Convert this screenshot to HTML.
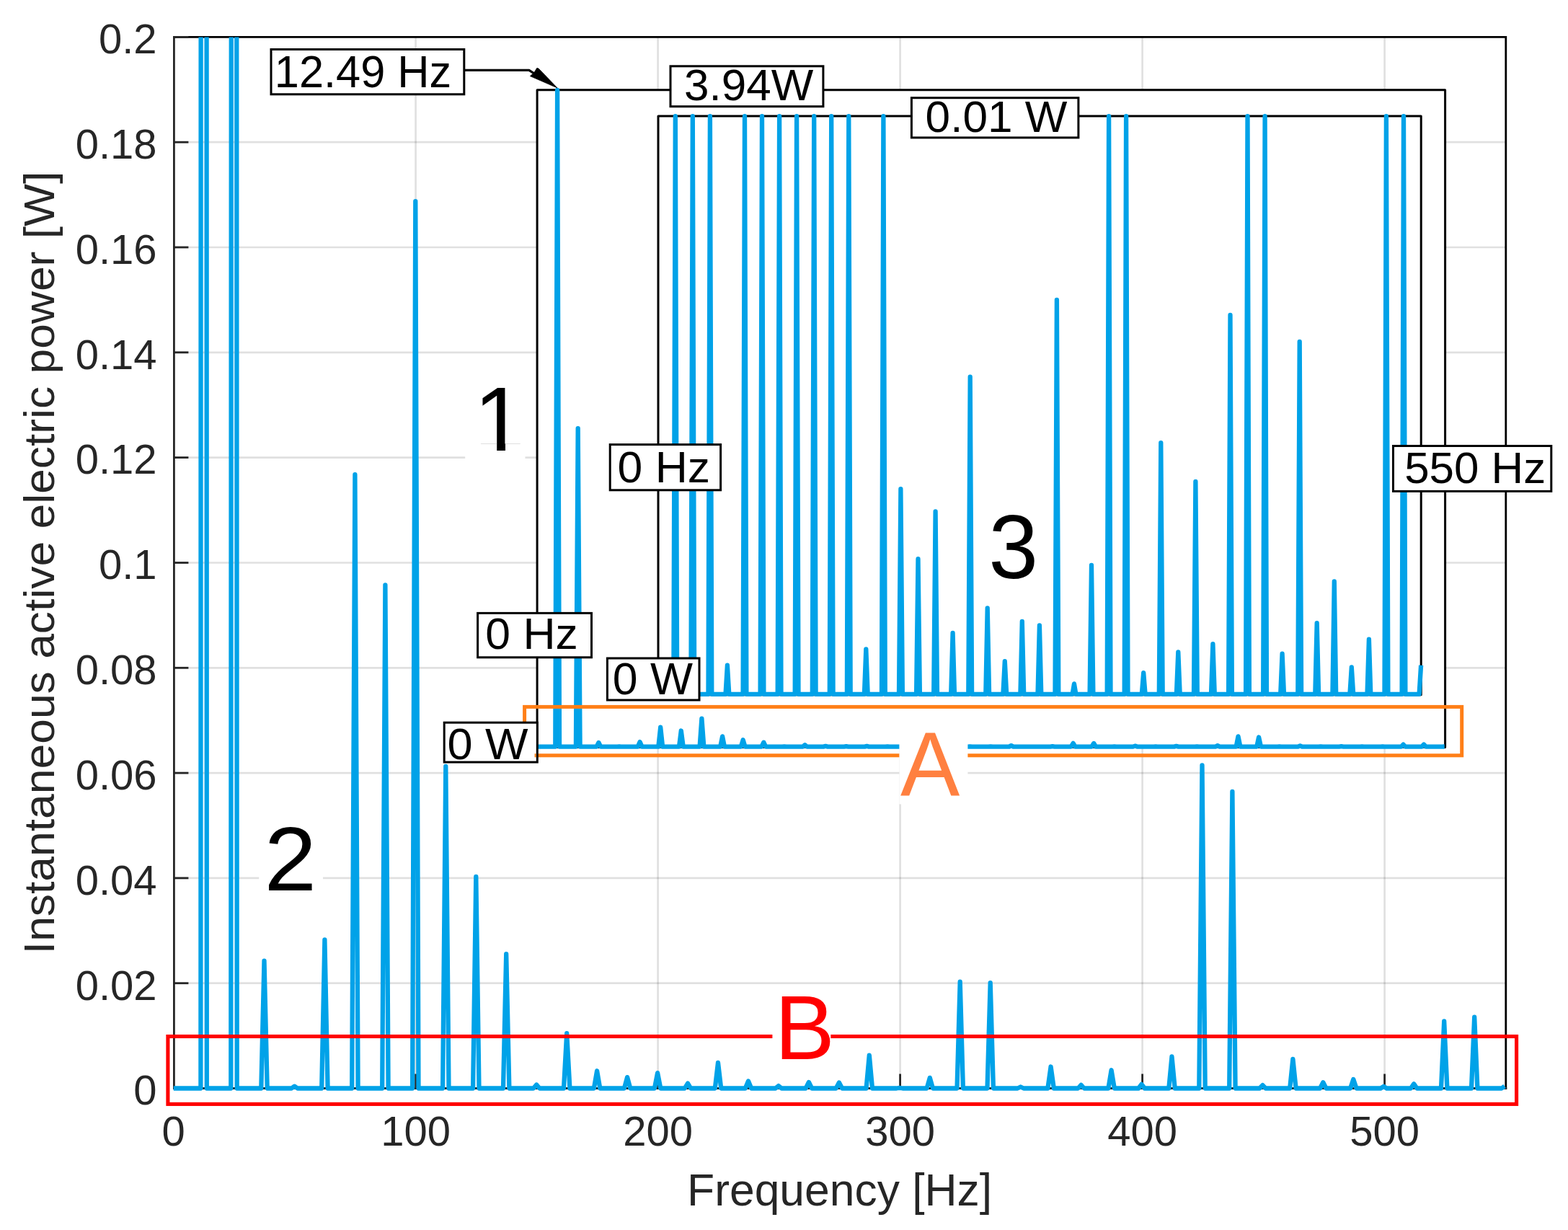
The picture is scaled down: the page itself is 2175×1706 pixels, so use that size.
<!DOCTYPE html>
<html lang="en"><head><meta charset="utf-8"><title>Instantaneous active electric power spectrum</title>
<style>html,body{margin:0;padding:0;background:#fff}body{width:2175px;height:1706px;overflow:hidden}svg{display:block}text{font-family:"Liberation Sans", sans-serif}</style>
</head><body>
<svg width="2175" height="1706" viewBox="0 0 2175 1706">
<rect x="0" y="0" width="2175" height="1706" fill="#fff"/>
<g stroke="#000" stroke-opacity="0.12" stroke-width="2.7" fill="none">
<line x1="576.6" y1="51.4" x2="576.6" y2="1509.5"/>
<line x1="912.6" y1="51.4" x2="912.6" y2="1509.5"/>
<line x1="1248.6" y1="51.4" x2="1248.6" y2="1509.5"/>
<line x1="1584.6" y1="51.4" x2="1584.6" y2="1509.5"/>
<line x1="1920.6" y1="51.4" x2="1920.6" y2="1509.5"/>
<line x1="241.4" y1="1363.7" x2="2088.8" y2="1363.7"/>
<line x1="241.4" y1="1217.9" x2="2088.8" y2="1217.9"/>
<line x1="241.4" y1="1072.1" x2="2088.8" y2="1072.1"/>
<line x1="241.4" y1="926.3" x2="2088.8" y2="926.3"/>
<line x1="241.4" y1="780.5" x2="2088.8" y2="780.5"/>
<line x1="241.4" y1="634.6" x2="2088.8" y2="634.6"/>
<line x1="241.4" y1="488.8" x2="2088.8" y2="488.8"/>
<line x1="241.4" y1="343.0" x2="2088.8" y2="343.0"/>
<line x1="241.4" y1="197.2" x2="2088.8" y2="197.2"/>
</g>
<path d="M241.4 51.4H2088.8V1509.5" fill="none" stroke="#000" stroke-width="2.8" stroke-linecap="square"/>
<g stroke="#262626" stroke-width="2.8" fill="none">
<path d="M241.4 51.4V1509.5H2088.8" stroke-linecap="square"/>
<line x1="576.6" y1="1509.5" x2="576.6" y2="1489.5"/>
<line x1="912.6" y1="1509.5" x2="912.6" y2="1489.5"/>
<line x1="1248.6" y1="1509.5" x2="1248.6" y2="1489.5"/>
<line x1="1584.6" y1="1509.5" x2="1584.6" y2="1489.5"/>
<line x1="1920.6" y1="1509.5" x2="1920.6" y2="1489.5"/>
<line x1="241.4" y1="1363.7" x2="261.4" y2="1363.7"/>
<line x1="241.4" y1="1217.9" x2="261.4" y2="1217.9"/>
<line x1="241.4" y1="1072.1" x2="261.4" y2="1072.1"/>
<line x1="241.4" y1="926.3" x2="261.4" y2="926.3"/>
<line x1="241.4" y1="780.5" x2="261.4" y2="780.5"/>
<line x1="241.4" y1="634.6" x2="261.4" y2="634.6"/>
<line x1="241.4" y1="488.8" x2="261.4" y2="488.8"/>
<line x1="241.4" y1="343.0" x2="261.4" y2="343.0"/>
<line x1="241.4" y1="197.2" x2="261.4" y2="197.2"/>
<line x1="241.4" y1="51.4" x2="261.4" y2="51.4"/>
</g>
<g fill="#262626" font-size="58">
<text x="217.6" y="1532.3" text-anchor="end">0</text>
<text x="217.6" y="1386.5" text-anchor="end">0.02</text>
<text x="217.6" y="1240.7" text-anchor="end">0.04</text>
<text x="217.6" y="1094.9" text-anchor="end">0.06</text>
<text x="217.6" y="949.1" text-anchor="end">0.08</text>
<text x="217.6" y="803.2" text-anchor="end">0.1</text>
<text x="217.6" y="657.4" text-anchor="end">0.12</text>
<text x="217.6" y="511.6" text-anchor="end">0.14</text>
<text x="217.6" y="365.8" text-anchor="end">0.16</text>
<text x="217.6" y="220.0" text-anchor="end">0.18</text>
<text x="217.6" y="74.2" text-anchor="end">0.2</text>
<text x="240.6" y="1589.0" text-anchor="middle">0</text>
<text x="576.6" y="1589.0" text-anchor="middle">100</text>
<text x="912.6" y="1589.0" text-anchor="middle">200</text>
<text x="1248.6" y="1589.0" text-anchor="middle">300</text>
<text x="1584.6" y="1589.0" text-anchor="middle">400</text>
<text x="1920.6" y="1589.0" text-anchor="middle">500</text>
</g>
<text x="1164.6" y="1672.0" text-anchor="middle" font-size="62.4" fill="#262626">Frequency [Hz]</text>
<text transform="translate(75.2 1323.2) rotate(-90)" textLength="1085.5" lengthAdjust="spacingAndGlyphs" font-size="59.5" fill="#262626">Instantaneous active electric power [W]</text>
<rect x="645.2" y="515" width="83.3" height="125" fill="#fff"/>
<rect x="359.2" y="1125" width="88.8" height="125" fill="#fff"/>
<defs><clipPath id="cm"><rect x="240.4" y="51.4" width="1848.4" height="1464.1"/></clipPath></defs>
<path d="M240.6 1509.5L278.4 1509.5L282.6 -27215.1L286.8 1509.5L320.3 1509.5L324.5 -12415.4L328.7 1509.5L362.3 1509.5L366.5 1332.6L370.7 1509.5L404.3 1509.5L408.5 1506.6L412.7 1509.5L446.2 1509.5L450.4 1303.4L454.6 1509.5L488.2 1509.5L492.4 658.2L496.6 1509.5L530.2 1509.5L534.4 811.3L538.6 1509.5L572.1 1509.5L576.3 279.1L580.5 1509.5L614.1 1509.5L618.3 1062.8L622.5 1509.5L656.1 1509.5L660.3 1215.9L664.5 1509.5L698.0 1509.5L702.2 1323.1L706.4 1509.5L740.0 1509.5L744.2 1504.5L748.4 1509.5L782.0 1509.5L786.2 1433.2L790.4 1509.5L823.9 1509.5L828.1 1485.3L832.3 1509.5L865.9 1509.5L870.1 1494.1L874.3 1509.5L907.9 1509.5L912.1 1488.1L916.3 1509.5L949.8 1509.5L954.0 1502.5L958.2 1509.5L991.8 1509.5L996.0 1473.9L1000.2 1509.5L1033.8 1509.5L1038.0 1499.4L1042.2 1509.5L1075.7 1509.5L1079.9 1506.1L1084.1 1509.5L1117.7 1509.5L1121.9 1501.0L1126.1 1509.5L1159.7 1509.5L1163.9 1501.6L1168.1 1509.5L1201.6 1509.5L1205.8 1463.6L1210.0 1509.5L1243.6 1509.5L1247.8 1508.8L1252.0 1509.5L1285.6 1509.5L1289.8 1494.9L1294.0 1509.5L1327.5 1509.5L1331.7 1361.7L1335.9 1509.5L1369.5 1509.5L1373.7 1363.2L1377.9 1509.5L1411.5 1509.5L1415.7 1507.5L1419.9 1509.5L1453.4 1509.5L1457.6 1479.5L1461.8 1509.5L1495.4 1509.5L1499.6 1504.9L1503.8 1509.5L1537.4 1509.5L1541.6 1484.3L1545.8 1509.5L1579.3 1509.5L1583.5 1503.9L1587.7 1509.5L1621.3 1509.5L1625.5 1465.5L1629.7 1509.5L1663.3 1509.5L1667.5 1061.4L1671.7 1509.5L1705.2 1509.5L1709.4 1097.8L1713.6 1509.5L1747.2 1509.5L1751.4 1505.1L1755.6 1509.5L1789.2 1509.5L1793.4 1468.9L1797.6 1509.5L1831.1 1509.5L1835.3 1501.3L1839.5 1509.5L1873.1 1509.5L1877.3 1497.0L1881.5 1509.5L1915.1 1509.5L1919.3 1506.8L1923.5 1509.5L1957.0 1509.5L1961.2 1503.3L1965.4 1509.5L1999.0 1509.5L2003.2 1416.4L2007.4 1509.5L2041.0 1509.5L2045.2 1410.6L2049.4 1509.5L2082.9 1509.5L2087.1 1506.6" fill="none" stroke="#00a2e8" stroke-width="6.3" stroke-linejoin="round" clip-path="url(#cm)"/>
<rect x="745.1" y="124.8" width="1259.5" height="911.7" fill="#fff" stroke="#000" stroke-width="3" stroke-linejoin="round"/>
<path d="M744.5 1035.6L770.3 1035.6L773.1 124.8L776.0 1035.6L798.9 1035.6L801.7 594.1L804.6 1035.6L827.5 1035.6L830.4 1030.0L833.2 1035.6L856.1 1035.6L859.0 1035.5L861.8 1035.6L884.7 1035.6L887.6 1029.1L890.5 1035.6L913.3 1035.6L916.2 1008.6L919.1 1035.6L942.0 1035.6L944.8 1013.5L947.7 1035.6L970.6 1035.6L973.4 996.6L976.3 1035.6L999.2 1035.6L1002.1 1021.4L1004.9 1035.6L1027.8 1035.6L1030.7 1026.3L1033.5 1035.6L1056.4 1035.6L1059.3 1029.7L1062.2 1035.6L1085.1 1035.6L1087.9 1035.4L1090.8 1035.6L1113.7 1035.6L1116.5 1033.2L1119.4 1035.6L1142.3 1035.6L1145.2 1034.8L1148.0 1035.6L1170.9 1035.6L1173.8 1035.1L1176.6 1035.6L1199.5 1035.6L1202.4 1034.9L1205.2 1035.6L1228.1 1035.6L1231.0 1035.4L1233.9 1035.6L1256.8 1035.6L1259.6 1034.5L1262.5 1035.6L1285.4 1035.6L1288.2 1035.3L1291.1 1035.6L1314.0 1035.6L1316.9 1035.5L1319.7 1035.6L1342.6 1035.6L1345.5 1035.3L1348.3 1035.6L1371.2 1035.6L1374.1 1035.3L1377.0 1035.6L1399.9 1035.6L1402.7 1034.1L1405.6 1035.6L1428.5 1035.6L1431.3 1035.6L1434.2 1035.6L1457.1 1035.6L1459.9 1035.1L1462.8 1035.6L1485.7 1035.6L1488.6 1030.9L1491.4 1035.6L1514.3 1035.6L1517.2 1031.0L1520.0 1035.6L1542.9 1035.6L1545.8 1035.5L1548.7 1035.6L1571.6 1035.6L1574.4 1034.6L1577.3 1035.6L1600.2 1035.6L1603.0 1035.5L1605.9 1035.6L1628.8 1035.6L1631.7 1034.8L1634.5 1035.6L1657.4 1035.6L1660.3 1035.4L1663.1 1035.6L1686.0 1035.6L1688.9 1034.2L1691.8 1035.6L1714.7 1035.6L1717.5 1021.4L1720.4 1035.6L1743.3 1035.6L1746.1 1022.5L1749.0 1035.6L1771.9 1035.6L1774.7 1035.5L1777.6 1035.6L1800.5 1035.6L1803.4 1034.3L1806.2 1035.6L1829.1 1035.6L1832.0 1035.3L1834.8 1035.6L1857.7 1035.6L1860.6 1035.2L1863.5 1035.6L1886.4 1035.6L1889.2 1035.5L1892.1 1035.6L1915.0 1035.6L1917.8 1035.4L1920.7 1035.6L1943.6 1035.6L1946.5 1032.6L1949.3 1035.6L1972.2 1035.6L1975.1 1032.5L1977.9 1035.6L2000.8 1035.6L2003.7 1035.5" fill="none" stroke="#00a2e8" stroke-width="6.3" stroke-linejoin="round"/>
<rect x="727.6" y="980.4" width="1300.1" height="67.4" fill="none" stroke="#ff7f17" stroke-width="5"/>
<rect x="913.0" y="161.1" width="1058.2" height="802.6" fill="#fff" stroke="#000" stroke-width="3" stroke-linejoin="round"/>
<path d="M912.7 962.8L934.3 962.8L936.8 161.1L939.2 962.8L958.4 962.8L960.8 161.1L963.2 962.8L982.5 962.8L984.9 161.1L987.3 962.8L1006.5 962.8L1008.9 922.7L1011.3 962.8L1030.6 962.8L1033.0 161.1L1035.4 962.8L1054.6 962.8L1057.0 161.1L1059.4 962.8L1078.7 962.8L1081.1 161.1L1083.5 962.8L1102.7 962.8L1105.1 161.1L1107.5 962.8L1126.8 962.8L1129.2 161.1L1131.6 962.8L1150.8 962.8L1153.2 161.1L1155.6 962.8L1174.9 962.8L1177.3 161.1L1179.7 962.8L1198.9 962.8L1201.3 900.3L1203.7 962.8L1223.0 962.8L1225.4 161.1L1227.8 962.8L1247.0 962.8L1249.4 678.2L1251.9 962.8L1271.1 962.8L1273.5 775.2L1275.9 962.8L1295.2 962.8L1297.6 709.5L1300.0 962.8L1319.2 962.8L1321.6 877.8L1324.0 962.8L1343.3 962.8L1345.7 522.7L1348.1 962.8L1367.3 962.8L1369.7 843.3L1372.1 962.8L1391.4 962.8L1393.8 917.1L1396.2 962.8L1415.4 962.8L1417.8 861.8L1420.2 962.8L1439.5 962.8L1441.9 867.4L1444.3 962.8L1463.5 962.8L1465.9 416.0L1468.3 962.8L1487.6 962.8L1490.0 948.4L1492.4 962.8L1511.6 962.8L1514.0 784.0L1516.4 962.8L1535.7 962.8L1538.1 161.1L1540.5 962.8L1559.7 962.8L1562.1 161.1L1564.5 962.8L1583.8 962.8L1586.2 933.1L1588.6 962.8L1607.8 962.8L1610.3 614.1L1612.7 962.8L1631.9 962.8L1634.3 904.3L1636.7 962.8L1656.0 962.8L1658.4 667.8L1660.8 962.8L1680.0 962.8L1682.4 893.1L1684.8 962.8L1704.1 962.8L1706.5 436.9L1708.9 962.8L1728.1 962.8L1730.5 161.1L1732.9 962.8L1752.2 962.8L1754.6 161.1L1757.0 962.8L1776.2 962.8L1778.6 906.7L1781.0 962.8L1800.3 962.8L1802.7 473.8L1805.1 962.8L1824.3 962.8L1826.7 864.2L1829.1 962.8L1848.4 962.8L1850.8 806.5L1853.2 962.8L1872.4 962.8L1874.8 925.5L1877.2 962.8L1896.5 962.8L1898.9 886.6L1901.3 962.8L1920.5 962.8L1922.9 161.1L1925.4 962.8L1944.6 962.8L1947.0 161.1L1949.4 962.8L1968.6 962.8L1971.1 922.7" fill="none" stroke="#00a2e8" stroke-width="6.3" stroke-linejoin="round"/>
<rect x="1247.4" y="1000" width="95" height="115.4" fill="#fff"/>
<text transform="translate(1248.89 1103.40) scale(0.9722 1)" font-size="127.0" fill="#ff8040">A</text>
<rect x="232.9" y="1437.5" width="1870.7" height="93.9" fill="none" stroke="#ff0000" stroke-width="5.1"/>
<rect x="1071.4" y="1375" width="80.9" height="100" fill="#fff"/>
<text transform="translate(1074.48 1469.40) scale(0.9848 1)" font-size="127.0" fill="#ff0000">B</text>
<defs><clipPath id="c1"><path d="M640 500H740V615.3H701V628H689.2V615.3H640Z"/></clipPath></defs>
<g clip-path="url(#c1)">
<text transform="translate(657.37 625.30) scale(1.0004 1)" font-size="127.0" fill="#000">1</text>
</g>
<text transform="translate(366.47 1235.30) scale(1.0279 1)" font-size="127.0" fill="#000">2</text>
<text transform="translate(1371.26 801.50) scale(0.9747 1)" font-size="127.0" fill="#000">3</text>
<rect x="376.0" y="68.5" width="267.8" height="62.3" fill="#fff" stroke="#000" stroke-width="3"/>
<text transform="translate(380.80 121.00) scale(0.9892 1)" font-size="62.0" fill="#000">12.49 Hz</text>
<rect x="930.0" y="91.8" width="211.9" height="55.9" fill="#fff" stroke="#000" stroke-width="3"/>
<text transform="translate(949.07 138.90) scale(1.0000 1)" font-size="62.0" fill="#000">3.94W</text>
<rect x="1264.4" y="135.7" width="231.5" height="55.2" fill="#fff" stroke="#000" stroke-width="3"/>
<text transform="translate(1283.61 183.00) scale(1.0023 1)" font-size="62.0" fill="#000">0.01 W</text>
<rect x="846.2" y="616.6" width="153.4" height="63.2" fill="#fff" stroke="#000" stroke-width="3"/>
<text transform="translate(856.60 669.30) scale(1.0080 1)" font-size="62.0" fill="#000">0 Hz</text>
<rect x="662.6" y="850.4" width="157.9" height="61.4" fill="#fff" stroke="#000" stroke-width="3"/>
<text transform="translate(673.30 900.20) scale(1.0080 1)" font-size="62.0" fill="#000">0 Hz</text>
<rect x="842.4" y="913.0" width="127.6" height="58.0" fill="#fff" stroke="#000" stroke-width="3"/>
<text transform="translate(849.80 962.70) scale(1.0086 1)" font-size="62.0" fill="#000">0 W</text>
<rect x="616.2" y="1002.2" width="129.1" height="54.9" fill="#fff" stroke="#000" stroke-width="3"/>
<text transform="translate(620.48 1052.80) scale(1.0170 1)" font-size="62.0" fill="#000">0 W</text>
<rect x="1932.5" y="618.5" width="219.3" height="62.9" fill="#fff" stroke="#000" stroke-width="3"/>
<text transform="translate(1948.13 669.50) scale(0.9979 1)" font-size="62.0" fill="#000">550 Hz</text>
<path d="M645 97.4H733.8L742 102.6" fill="none" stroke="#000" stroke-width="3.2"/>
<path d="M773.0 121.9L735.4 105.6L740.8 100.9L744.6 94.6Q746.2 94.2 747.6 95.6Z" fill="#000" stroke="#000" stroke-width="0.8" stroke-linejoin="round"/>
<rect x="741.6" y="1045.3" width="2.2" height="5" fill="#ff7f17"/>
</svg>
</body></html>
